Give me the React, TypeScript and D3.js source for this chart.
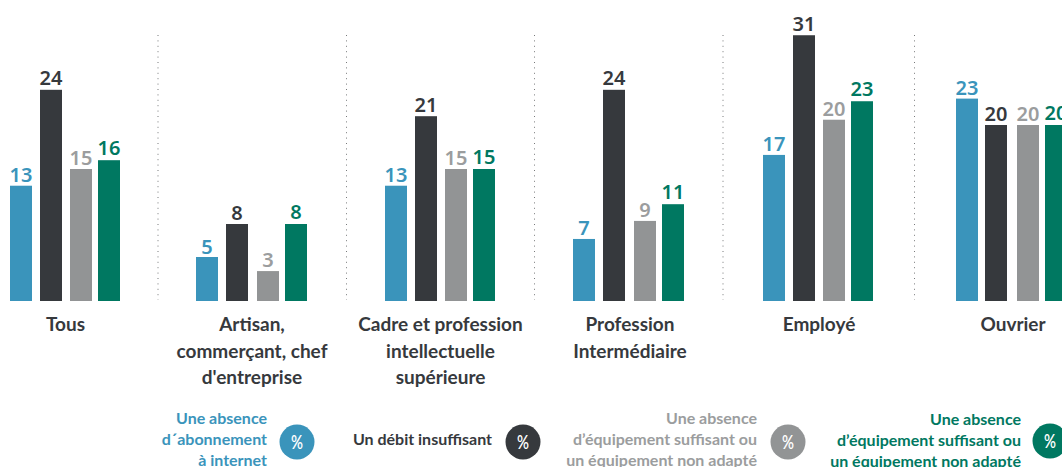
import React from "react";
import * as d3 from "d3";

const categories = ["Tous", "Artisan, commerçant, chef d'entreprise", "Cadre et profession intellectuelle supérieure", "Profession Intermédiaire", "Employé", "Ouvrier"];
const categoryLines = [["Tous"], ["Artisan,", "commerçant, chef", "d'entreprise"], ["Cadre et profession", "intellectuelle", "supérieure"], ["Profession", "Intermédiaire"], ["Employé"], ["Ouvrier"]];
const seriesNames = ["abonnement", "debit", "equipementGris", "equipementVert"];
const colors = ["#3a94bb", "#36393d", "#929495", "#007861"];
const labelColors = ["#3a94bb", "#36393d", "#9b9d9e", "#007861"];

// Printed labels
const abonnementLabels = [13, 5, 13, 7, 17, 23];
const debitLabels = [24, 8, 21, 24, 31, 20];
const grisLabels = [15, 3, 15, 9, 20, 20];
const vertLabels = [16, 8, 15, 11, 23, 20];
// Bar lengths
const abonnement = [13.1, 5, 13.1, 7.05, 16.6, 23];
const debit = [24, 8.75, 21, 24, 30.2, 20];
const gris = [15, 3.4, 15, 9.1, 20.6, 20];
const vert = [16, 8.75, 15, 11, 22.7, 20];

const legendLines = [["Une absence", "d´abonnement", "à internet"], ["Un débit insuffisant"], ["Une absence", "d’équipement suffisant ou", "un équipement non adapté"], ["Une absence", "d’équipement suffisant ou", "un équipement non adapté"]];

const W = 1062, H = 467;
const FONT = "Lato, 'Noto Sans', sans-serif";
const VALUE_FONT = "'Noto Sans', sans-serif";

const groupX = d3.scaleOrdinal<string, number>().domain(categories).range([10, 196, 385, 573, 763, 956]);
const groupCenter = d3.scaleOrdinal<string, number>().domain(categories).range([65.5, 252, 440.5, 630, 819, 1013]);
const offsetsByGroup = [[0, 30, 60, 88], [0, 30, 61, 89], [0, 30, 60, 88], [0, 30, 61, 89], [0, 30, 60, 88], [0, 29, 61, 89]];
const y = d3.scaleLinear().domain([0, 31]).range([301, 301 - 31 * 8.8]);
const separators = [158, 346.5, 534.5, 723, 914.5];
const labelGap = [3.5, 4.5, 4, 5];
const legendTextRight = [267, 492, 757, 1021];
const legendCircleX = [297, 523, 788, 1050];
const legendY = [442, 442, 442, 441];
const legendTextBaseline = [445, 445, 445, 446];
const BAR_W = 22;

export default function App() {
  const values = [abonnement, debit, gris, vert];
  const labels = [abonnementLabels, debitLabels, grisLabels, vertLabels];
  return (
    <svg width={W} height={H} viewBox={`0 0 ${W} ${H}`} style={{ position: "absolute", left: 0, top: 0, background: "#fff" }}>
      {separators.map((x) => (
        <line key={x} x1={x} x2={x} y1={35} y2={300} stroke="#77797a" strokeWidth={1} strokeDasharray="1 4.4" />
      ))}
      {categories.map((c, g) => (
        <g key={c}>
          {seriesNames.map((s, i) => {
            const x = groupX(c) + offsetsByGroup[g][i];
            const top = y(values[i][g]);
            return (
              <g key={s}>
                <rect x={x} y={top} width={BAR_W} height={y(0) - top} fill={colors[i]} />
                <text x={x + BAR_W / 2} y={top - labelGap[i]} textAnchor="middle" fontFamily={VALUE_FONT} fontWeight={600} fontSize={20} fill={labelColors[i]}>
                  {labels[i][g]}
                </text>
              </g>
            );
          })}
          {categoryLines[g].map((line, k) => (
            <text key={k} x={groupCenter(c)} y={331 + k * 26.5} textAnchor="middle" fontFamily={FONT} fontWeight={700} fontSize={19} fill="#36393d">
              {line}
            </text>
          ))}
        </g>
      ))}
      {seriesNames.map((s, i) => {
        const lines = legendLines[i];
        const lh = 20.7;
        const start = legendTextBaseline[i] - ((lines.length - 1) * lh) / 2;
        return (
          <g key={s}>
            {lines.map((l, k) => (
              <text key={k} x={legendTextRight[i]} y={start + k * lh} textAnchor="end" fontFamily={FONT} fontWeight={700} fontSize={16} fill={labelColors[i]}>
                {l}
              </text>
            ))}
            <circle cx={legendCircleX[i]} cy={legendY[i]} r={17.5} fill={colors[i]} />
            <text x={legendCircleX[i]} y={legendY[i] + 7} textAnchor="middle" fontFamily={FONT} fontWeight={600} fontSize={19} textLength={12} lengthAdjust="spacingAndGlyphs" fill="#fff">%</text>
          </g>
        );
      })}
    </svg>
  );
}
